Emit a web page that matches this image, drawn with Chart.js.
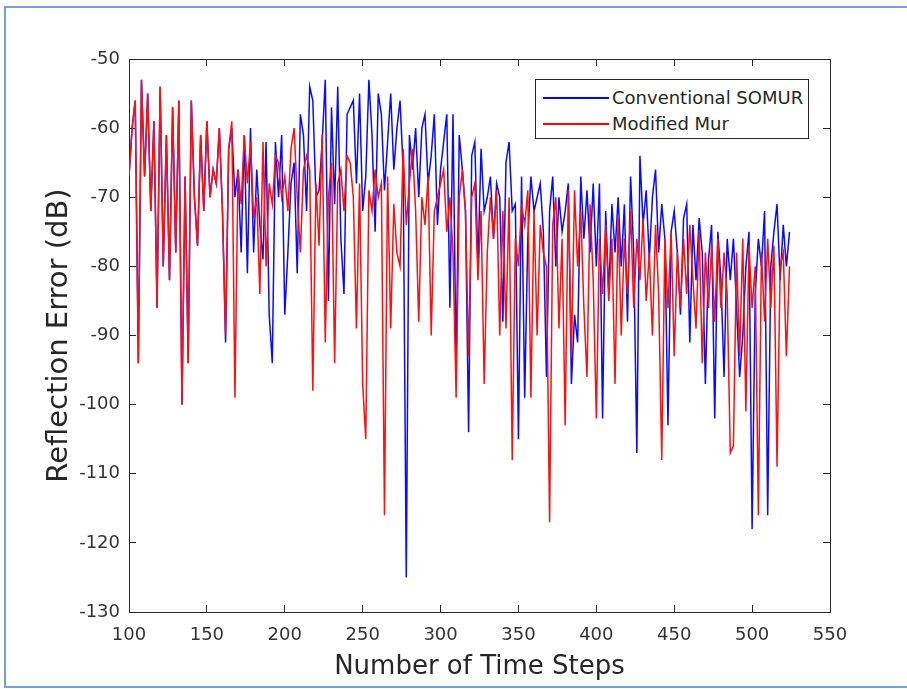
<!DOCTYPE html>
<html lang="en">
<head>
    <meta charset="UTF-8">
    <title>Reflection Error</title>
    <script src="https://cdn.jsdelivr.net/npm/chart.js"></script>
    <style>
        body {
            margin: 0;
            background: #fff;
        }
        .frame {
            position: absolute;
            left: 4px;
            top: 6px;
            width: 920px;
            height: 678px;
            border: 2px solid #72a0da;
        }
        .wrap {
            position: absolute;
            left: 0;
            top: 0;
            width: 907px;
            height: 689px;
        }
        .legend {
            position: absolute;
            left: 535px;
            top: 79px;
            width: 272px;
            height: 58px;
            border: 1px solid #262626;
            background: #fff;
            font-family: 'DejaVu Sans', sans-serif;
            font-size: 18px;
            color: #262626;
        }
        .legend .item {
            position: absolute;
            left: 0;
            height: 24px;
            line-height: 24px;
            white-space: nowrap;
        }
        .legend .swatch {
            position: absolute;
            left: 7px;
            top: 11px;
            width: 66px;
            height: 2px;
        }
        .legend .label {
            position: absolute;
            left: 76px;
        }
    </style>
</head>
<body>
    <div class="frame"></div>
    <div class="wrap">
        <canvas id="errChart" width="907" height="689"></canvas>
        <div class="legend">
            <div class="item" style="top:6px"><span class="swatch" style="background:#0000ff"></span><span class="label">Conventional SOMUR</span></div>
            <div class="item" style="top:32px"><span class="swatch" style="background:#ff0000"></span><span class="label">Modified Mur</span></div>
        </div>
    </div>

    <script>
        // time steps (every 2nd step)
        const steps = [
            100, 102, 104, 106, 108, 110, 112, 114, 116, 118,
            120, 122, 124, 126, 128, 130, 132, 134, 136, 138,
            140, 142, 144, 146, 148, 150, 152, 154, 156, 158,
            160, 162, 164, 166, 168, 170, 172, 174, 176, 178,
            180, 182, 184, 186, 188, 190, 192, 194, 196, 198,
            200, 202, 204, 206, 208, 210, 212, 214, 216, 218,
            220, 222, 224, 226, 228, 230, 232, 234, 236, 238,
            240, 242, 244, 246, 248, 250, 252, 254, 256, 258,
            260, 262, 264, 266, 268, 270, 272, 274, 276, 278,
            280, 282, 284, 286, 288, 290, 292, 294, 296, 298,
            300, 302, 304, 306, 308, 310, 312, 314, 316, 318,
            320, 322, 324, 326, 328, 330, 332, 334, 336, 338,
            340, 342, 344, 346, 348, 350, 352, 354, 356, 358,
            360, 362, 364, 366, 368, 370, 372, 374, 376, 378,
            380, 382, 384, 386, 388, 390, 392, 394, 396, 398,
            400, 402, 404, 406, 408, 410, 412, 414, 416, 418,
            420, 422, 424, 426, 428, 430, 432, 434, 436, 438,
            440, 442, 444, 446, 448, 450, 452, 454, 456, 458,
            460, 462, 464, 466, 468, 470, 472, 474, 476, 478,
            480, 482, 484, 486, 488, 490, 492, 494, 496, 498,
            500, 502, 504, 506, 508, 510, 512, 514, 516, 518,
            520, 522, 524
        ];

        // Conventional SOMUR (dB)
        const somur = [
            -67, -60, -56, -94, -53, -67, -55, -72, -59, -86,
            -54, -80, -61, -82, -57, -78, -56, -100, -67, -94,
            -56, -70, -77, -61, -72, -59, -70, -66, -68, -60,
            -72, -91, -63, -60, -70, -66, -78, -61, -81, -60,
            -78, -66, -74, -79, -62, -87, -94, -62, -70, -61,
            -87, -78, -68, -65, -81, -58, -61, -72, -54, -56,
            -70, -69, -62, -53, -85, -57, -71, -54, -76, -84,
            -58, -57, -56, -68, -55, -72, -67, -53, -61, -75,
            -55, -58, -69, -62, -55, -66, -60, -56, -66, -125,
            -61, -66, -60, -70, -60, -58, -68, -64, -58, -74,
            -66, -62, -58, -86, -58, -95, -61, -66, -72, -104,
            -64, -62, -80, -63, -72, -70, -67, -76, -68, -70,
            -88, -65, -62, -72, -71, -105, -67, -99, -76, -67,
            -72, -70, -68, -75, -96, -72, -67, -80, -70, -75,
            -72, -68, -97, -87, -91, -67, -76, -69, -78, -68,
            -80, -68, -102, -72, -84, -71, -78, -70, -80, -71,
            -88, -67, -78, -107, -64, -74, -69, -79, -70, -66,
            -78, -71, -76, -103, -75, -72, -78, -87, -73, -71,
            -91, -74, -82, -73, -78, -97, -79, -74, -102, -75,
            -82, -96, -76, -82, -76, -86, -96, -90, -80, -75,
            -118, -84, -76, -80, -72, -116, -80, -75, -71, -82,
            -74, -80, -75
        ];

        // Modified Mur (dB)
        const mur = [
            -67, -60, -56, -94, -53, -67, -55, -72, -59, -86,
            -54, -80, -61, -82, -57, -78, -56, -100, -67, -94,
            -56, -70, -77, -61, -72, -59, -70, -66, -68, -60,
            -72, -90, -63, -59, -99, -66, -71, -61, -68, -62,
            -73, -70, -84, -62, -80, -68, -71, -64, -65, -70,
            -67, -72, -63, -60, -70, -78, -66, -64, -66, -98,
            -68, -77, -61, -91, -70, -65, -94, -68, -66, -72,
            -64, -65, -70, -89, -68, -97, -105, -69, -72, -66,
            -70, -68, -116, -67, -89, -71, -78, -80, -63, -74,
            -68, -63, -72, -88, -70, -74, -67, -90, -72, -70,
            -68, -66, -75, -70, -78, -99, -70, -66, -72, -93,
            -70, -68, -82, -72, -97, -78, -70, -76, -69, -90,
            -72, -89, -70, -108, -76, -80, -71, -74, -69, -99,
            -72, -90, -74, -78, -80, -117, -74, -70, -89, -76,
            -103, -69, -93, -69, -80, -72, -86, -96, -71, -82,
            -102, -76, -84, -74, -85, -76, -97, -73, -90, -76,
            -84, -72, -86, -76, -82, -73, -85, -78, -90, -74,
            -84, -108, -76, -86, -75, -93, -78, -86, -76, -84,
            -74, -82, -89, -75, -94, -78, -86, -77, -88, -76,
            -86, -78, -84, -107, -106, -78, -93, -76, -101, -77,
            -86, -80, -116, -78, -88, -76, -86, -77, -109, -80,
            -78, -93, -80
        ];

        const xTicks = { min: 100, max: 550, step: 50 };
        const yTicks = { min: -130, max: -50, step: 10 };

        const axisColor = '#262626';
        const fontFamily = "'DejaVu Sans', sans-serif";

        function toPoints(values) {
            return values.map((v, i) => ({ x: steps[i], y: v }));
        }

        // ticks pointing inward like matlab
        const inwardGrid = { drawOnChartArea: false, drawTicks: true, tickLength: -7, color: axisColor };
        const border = { display: true, color: axisColor, width: 1 };

        const ctx = document.getElementById('errChart').getContext('2d');
        new Chart(ctx, {
            type: 'line',
            data: {
                datasets: [
                    {
                        label: 'Modified Mur',
                        data: toPoints(mur),
                        borderColor: '#ff1010',
                        borderWidth: 1.5,
                        pointRadius: 0,
                        tension: 0,
                        fill: false
                    },
                    {
                        label: 'Conventional SOMUR',
                        data: toPoints(somur),
                        borderColor: '#0a0aff',
                        borderWidth: 1.5,
                        pointRadius: 0,
                        tension: 0,
                        fill: false
                    }
                ]
            },
            options: {
                responsive: false,
                animation: false,
                layout: { padding: 0 },
                plugins: {
                    legend: { display: false },
                    tooltip: { enabled: false }
                },
                scales: {
                    x: {
                        type: 'linear',
                        position: 'bottom',
                        min: xTicks.min,
                        max: xTicks.max,
                        ticks: {
                            stepSize: xTicks.step,
                            padding: 20,
                            maxRotation: 0,
                            color: '#333',
                            font: { family: fontFamily, size: 18 }
                        },
                        grid: inwardGrid,
                        border: border,
                        title: {
                            display: true,
                            text: 'Number of Time Steps',
                            color: axisColor,
                            font: { family: fontFamily, size: 26 },
                            padding: { top: 0, bottom: 6 }
                        },
                        afterFit: (s) => { s.height = 77; }
                    },
                    x2: {
                        type: 'linear',
                        position: 'top',
                        min: xTicks.min,
                        max: xTicks.max,
                        ticks: { stepSize: xTicks.step, display: false },
                        grid: inwardGrid,
                        border: border,
                        afterFit: (s) => { s.height = 59; }
                    },
                    y: {
                        type: 'linear',
                        position: 'left',
                        min: yTicks.min,
                        max: yTicks.max,
                        ticks: {
                            stepSize: yTicks.step,
                            padding: 16,
                            color: '#333',
                            font: { family: fontFamily, size: 18 }
                        },
                        grid: inwardGrid,
                        border: border,
                        title: {
                            display: true,
                            text: 'Reflection Error (dB)',
                            color: axisColor,
                            font: { family: fontFamily, size: 29 },
                            padding: { top: 42, bottom: 0 }
                        },
                        afterFit: (s) => { s.width = 129; }
                    },
                    y2: {
                        type: 'linear',
                        position: 'right',
                        min: yTicks.min,
                        max: yTicks.max,
                        ticks: { stepSize: yTicks.step, display: false },
                        grid: inwardGrid,
                        border: border,
                        afterFit: (s) => { s.width = 77; }
                    }
                }
            }
        });
    </script>
</body>
</html>
